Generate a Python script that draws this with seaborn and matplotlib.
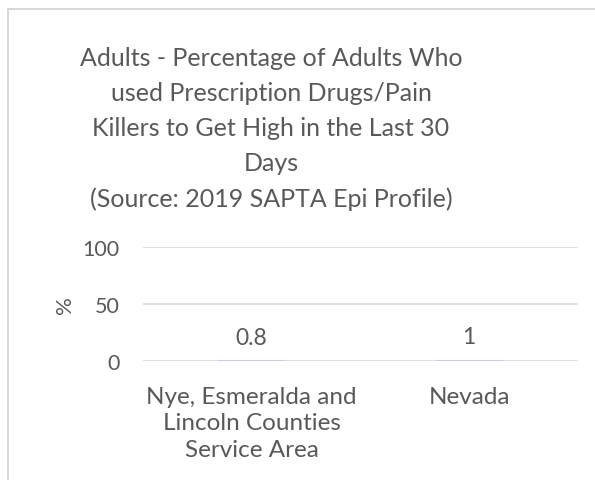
import seaborn as sns
import matplotlib.pyplot as plt
import pandas as pd
from matplotlib.patches import Rectangle

categories = ['Nye, Esmeralda and\nLincoln Counties\nService Area', 'Nevada']
values = [0.8, 1]
labels = ['0.8', '1']
yticks = [0, 50, 100]

title = ('Adults - Percentage of Adults Who\nused Prescription Drugs/Pain\n'
         'Killers to Get High in the Last 30\nDays\n(Source: 2019 SAPTA Epi Profile)')

sns.set_style('white')
plt.rcParams['font.family'] = ['Lato', 'DejaVu Sans']
text_color = '#595959'

df = pd.DataFrame({'area': categories, 'pct': values})

fig = plt.figure(figsize=(5.95, 4.81), dpi=100)
ax = fig.add_axes([0.2403, 0.2474, 0.7311, 0.2370])

sns.barplot(data=df, x='area', y='pct', color='#c8c8e4', width=0.31,
            edgecolor='none', linewidth=0, ax=ax, zorder=3)

ax.set_ylim(0, 100)
ax.set_yticks(yticks)
ax.set_yticklabels([str(t) for t in yticks])
ax.yaxis.grid(True, color='#d9d9d9', linewidth=1.2, zorder=0)
ax.set_axisbelow(True)
for s in ax.spines.values():
    s.set_visible(False)
ax.tick_params(axis='y', length=0, labelsize=15.5, colors=text_color, pad=17)
ax.tick_params(axis='x', length=0, labelsize=17.5, colors=text_color, pad=18)
for t in ax.get_xticklabels():
    t.set_linespacing(1.31)
ax.set_xlabel('')
ax.set_ylabel('%', fontsize=16, color=text_color, labelpad=5)

for i, (v, lab) in enumerate(zip(values, labels)):
    ax.annotate(lab, (i, v), xytext=(0, 9), textcoords='offset points',
                ha='center', va='bottom', fontsize=16.5, color=text_color)

fig.text(271 / 595, 1 - 129 / 481, title, ha='center', va='center', fontsize=18,
         color=text_color, linespacing=1.62)

# chart frame
fig.patches.append(Rectangle((8 / 595, -0.1), 1.2, 1 - 10 / 481 + 0.1,
                             transform=fig.transFigure, fill=False,
                             edgecolor='#d9d9d9', linewidth=1.5))

fig.savefig('out.png', dpi=100)
